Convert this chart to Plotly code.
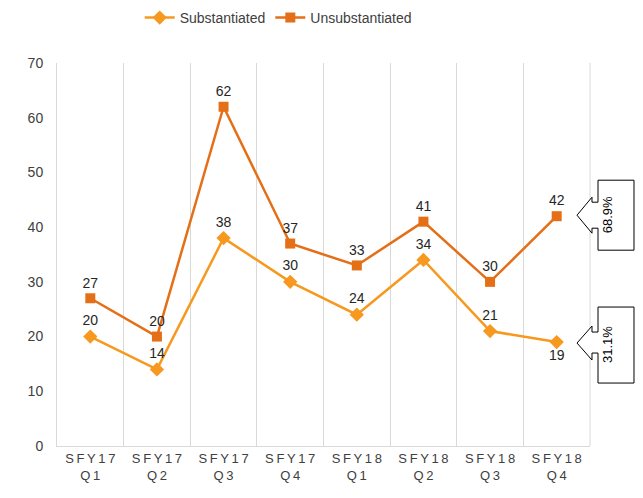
import plotly.graph_objects as go

categories = ["S\u2009F\u2009Y\u20091\u20097<br>Q\u20091", "S\u2009F\u2009Y\u20091\u20097<br>Q\u20092",
              "S\u2009F\u2009Y\u20091\u20097<br>Q\u20093", "S\u2009F\u2009Y\u20091\u20097<br>Q\u20094",
              "S\u2009F\u2009Y\u20091\u20098<br>Q\u20091", "S\u2009F\u2009Y\u20091\u20098<br>Q\u20092",
              "S\u2009F\u2009Y\u20091\u20098<br>Q\u20093", "S\u2009F\u2009Y\u20091\u20098<br>Q\u20094"]
substantiated = [20, 14, 38, 30, 24, 34, 21, 19]
unsubstantiated = [27, 20, 62, 37, 33, 41, 30, 42]
sub_label_pos = ["top center"] * 7 + ["bottom center"]
share_labels = ["68.9%", "31.1%"]

x = list(range(len(categories)))
SUB_C = "#F7981F"
UNS_C = "#E46F17"
FONT = "Liberation Sans, Arial, sans-serif"

W, H = 627, 482
ML, MR, MT, MB = 49, 45, 55, 44
PW = W - ML - MR          # plot width in px
PH = H - MT - MB          # plot height in px
YMAX = 70

fig = go.Figure()
fig.add_trace(go.Scatter(
    x=x, y=substantiated, name="Substantiated", mode="lines+markers+text",
    line=dict(color=SUB_C, width=2.5),
    marker=dict(symbol="diamond", size=11, color=SUB_C),
    text=[str(v) for v in substantiated], textposition=sub_label_pos,
    textfont=dict(size=14, color="#262626", family=FONT), cliponaxis=False))
fig.add_trace(go.Scatter(
    x=x, y=unsubstantiated, name="Unsubstantiated", mode="lines+markers+text",
    line=dict(color=UNS_C, width=2.5),
    marker=dict(symbol="square", size=10, color=UNS_C),
    text=[str(v) for v in unsubstantiated], textposition="top center",
    textfont=dict(size=14, color="#262626", family=FONT), cliponaxis=False))


def callout_path(yv, pts):
    """pts: pixel offsets (dx right of plot edge, dy up from value yv)."""
    segs = []
    for i, (dx, dy) in enumerate(pts):
        px = 1 + dx / PW
        py = yv + dy * YMAX / PH
        segs.append(("M" if i == 0 else "L") + f" {px:.5f},{py:.4f}")
    return " ".join(segs) + " Z"


callouts = [
    (unsubstantiated[-1],
     [(8, 36), (44, 36), (44, -34), (8, -34), (8, -12), (2, -12), (2, -17), (-13, 1), (2, 19), (2, 14), (8, 14)], 1),
    (substantiated[-1],
     [(8, 35), (44, 35), (44, -41), (8, -41), (8, -11), (2, -11), (2, -18), (-13, -1), (2, 16), (2, 10), (8, 10)], -3),
]
for (yv, pts, ysh), lab in zip(callouts, share_labels):
    fig.add_shape(type="path", xref="paper", yref="y", path=callout_path(yv, pts),
                  line=dict(color="#000000", width=1), fillcolor="white", layer="above")
    fig.add_annotation(xref="paper", yref="y", x=1 + 26.5 / PW, y=yv, yshift=ysh, text=lab,
                       textangle=-90, showarrow=False,
                       font=dict(size=13, color="#000000", family=FONT))

# right border of the plot area
fig.add_shape(type="line", xref="paper", yref="paper", x0=1, x1=1, y0=0, y1=1,
              line=dict(color="#D9D9D9", width=1), layer="below")

fig.update_layout(
    width=W, height=H,
    margin=dict(l=ML, r=MR, t=MT, b=MB, autoexpand=False),
    plot_bgcolor="white", paper_bgcolor="white",
    font=dict(family=FONT, size=14, color="#404040"),
    showlegend=True,
    legend=dict(orientation="h", x=0.415, xanchor="center", y=1 + 45 / PH, yanchor="middle",
                font=dict(size=14, color="#404040", family=FONT), itemwidth=30,
                bgcolor="rgba(0,0,0,0)"),
    xaxis=dict(range=[-0.5, 7.5], tickvals=x, ticktext=categories, showgrid=False,
               zeroline=False, showline=True, linecolor="#D9D9D9", ticks="",
               tickfont=dict(size=13, color="#404040", family=FONT),
               minor=dict(tick0=0.5, dtick=1, showgrid=True, gridcolor="#D9D9D9", gridwidth=1)),
    yaxis=dict(range=[0, YMAX], dtick=10, showgrid=False, zeroline=False,
               showline=True, linecolor="#D9D9D9", ticks="", ticklabelstandoff=10,
               tickfont=dict(size=14, color="#404040", family=FONT)),
)

fig.write_html("out.html")
